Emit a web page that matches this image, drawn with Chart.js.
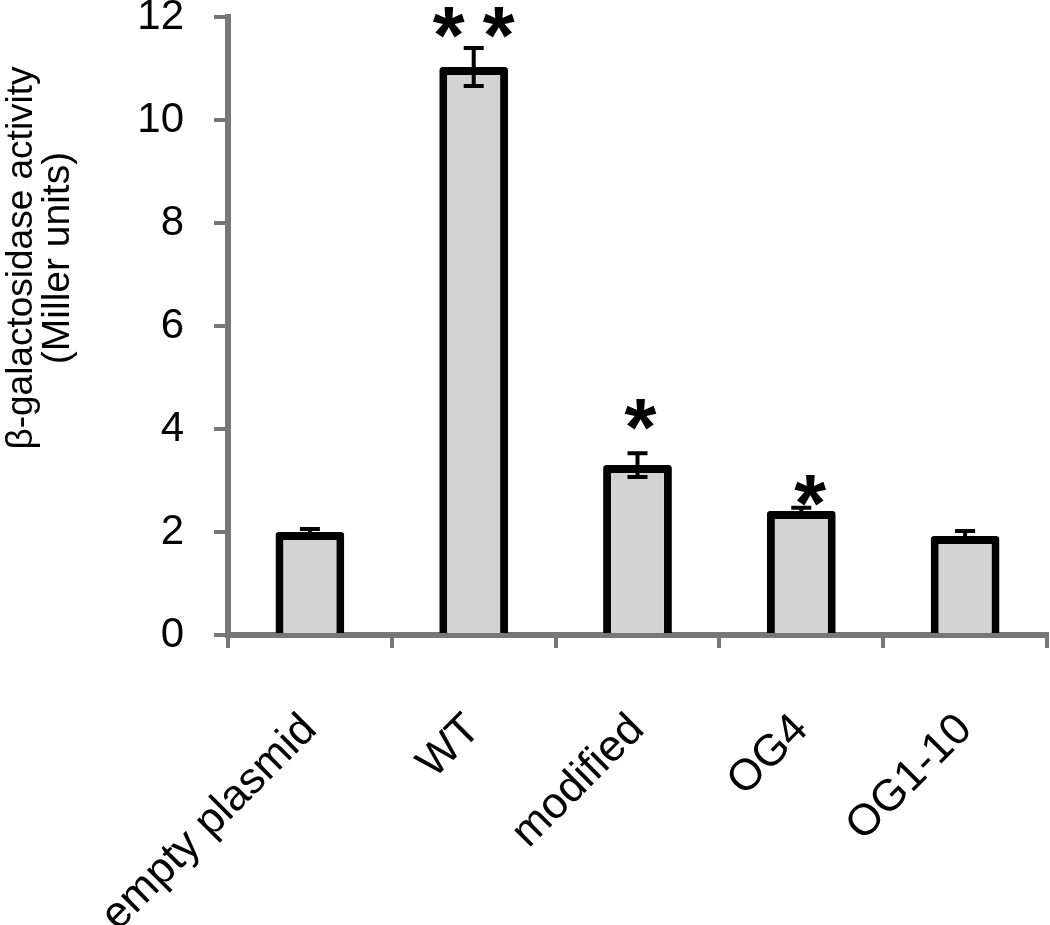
<!DOCTYPE html>
<html>
<head>
<meta charset="utf-8">
<script src="https://cdn.jsdelivr.net/npm/chart.js@4/dist/chart.umd.min.js"></script>
<style>
  html, body { margin: 0; padding: 0; background: #fff; }
  #wrap { width: 1050px; height: 925px; }
</style>
</head>
<body>
<div id="wrap"><canvas id="myChart" width="1050" height="925"></canvas></div>
<script>
const categories = ['empty plasmid', 'WT', 'modified', 'OG4', 'OG1-10'];
const activity = [2.0, 11.03, 3.3, 2.41, 1.92];
const errors = [0.06, 0.37, 0.23, 0.06, 0.1];
const stars = ['', '**', '*', '*', ''];
const yTicks = [0, 2, 4, 6, 8, 10, 12];
const yTitle = ['\u03b2-galactosidase activity', '(Miller units)'];

const axisGray = '#777777';
const font = '"Liberation Sans", Arial, sans-serif';

// error bars, significance marks and the y title
const extrasPlugin = {
  id: 'extras',
  afterDatasetsDraw(chart) {
    const ctx = chart.ctx;
    const y = chart.scales.y;
    const meta = chart.getDatasetMeta(0);
    ctx.save();
    ctx.strokeStyle = '#000';
    ctx.lineWidth = 4;
    activity.forEach((v, i) => {
      const cx = meta.data[i].x;
      const top = y.getPixelForValue(v + errors[i]);
      const bot = y.getPixelForValue(v - errors[i]);
      ctx.beginPath();
      ctx.moveTo(cx, top); ctx.lineTo(cx, bot);
      ctx.moveTo(cx - 10, top); ctx.lineTo(cx + 10, top);
      ctx.moveTo(cx - 10, bot); ctx.lineTo(cx + 10, bot);
      ctx.stroke();
      if (stars[i]) {
        ctx.fillStyle = '#000';
        ctx.font = 'bold 82px ' + font;
        ctx.textAlign = 'center';
        ctx.textBaseline = 'alphabetic';
        const m = ctx.measureText('*');
        const gap = [0, 25, 39, 17, 0][i];
        const dx = [0, 0, 3, 9, 0][i];
        const centerY = top - gap;
        const base = centerY + (m.actualBoundingBoxAscent - m.actualBoundingBoxDescent) / 2;
        const n = stars[i].length;
        for (let k = 0; k < n; k++) {
          ctx.fillText('*', cx + dx + (k - (n - 1) / 2) * 50, base);
        }
      }
    });
    // y axis title
    ctx.fillStyle = '#000';
    ctx.textAlign = 'center';
    ctx.textBaseline = 'middle';
    ctx.translate(0, 258);
    ctx.rotate(-Math.PI / 2);
    ctx.font = '37px ' + font;
    ctx.fillText(yTitle[0], 0, 22);
    ctx.font = '39px ' + font;
    ctx.fillText(yTitle[1], 0, 58);
    ctx.restore();
  }
};

new Chart(document.getElementById('myChart'), {
  type: 'bar',
  data: {
    labels: categories,
    datasets: [{
      data: activity,
      backgroundColor: '#d3d3d3',
      borderColor: '#000',
      borderWidth: 8,
      borderSkipped: 'start',
      borderRadius: 3,
      barPercentage: 0.42,
      categoryPercentage: 1
    }]
  },
  options: {
    responsive: false,
    animation: false,
    layout: { padding: { top: 17, right: 3, left: 0, bottom: 0 } },
    plugins: { legend: { display: false }, tooltip: { enabled: false } },
    scales: {
      x: {
        grid: { drawOnChartArea: false, color: axisGray, lineWidth: 4, tickLength: 13, tickWidth: 4, tickColor: axisGray },
        border: { color: axisGray, width: 6 },
        ticks: {
          color: '#000',
          font: { family: font, size: 44 },
          minRotation: 45, maxRotation: 45,
          padding: 56
        },
        afterFit(scale) { scale.height = 290; scale.paddingTop = 0; scale.paddingRight = 0; }
      },
      y: {
        min: 0, max: 12,
        afterBuildTicks(scale) { scale.ticks = yTicks.map(v => ({ value: v })); },
        grid: { drawOnChartArea: false, color: axisGray, lineWidth: 4, tickLength: 14, tickWidth: 4, tickColor: axisGray },
        border: { color: axisGray, width: 6 },
        ticks: {
          color: '#000',
          font: { family: font, size: 42, lineHeight: 1 },
          padding: 30
        },
        afterFit(scale) { scale.width = 228; scale.paddingTop = 0; }
      }
    }
  },
  plugins: [extrasPlugin]
});
</script>
</body>
</html>
